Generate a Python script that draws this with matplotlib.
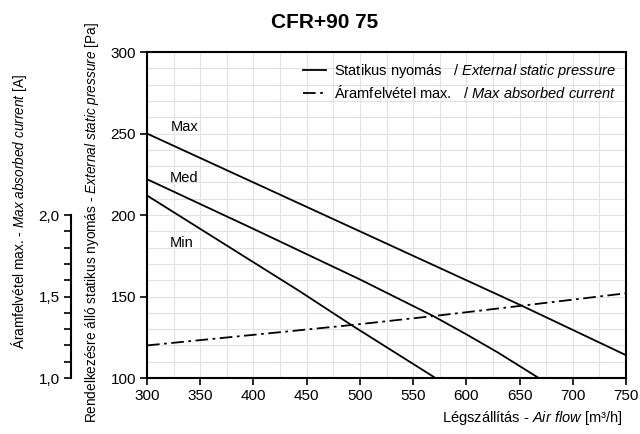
import matplotlib
matplotlib.use("Agg")
import matplotlib.pyplot as plt
from matplotlib.ticker import MultipleLocator, FuncFormatter
from matplotlib.lines import Line2D

# Adatok
FLOW_MAX = [300, 400, 500, 600, 650, 700, 750]
PA_MAX = [250, 220, 190, 160, 145, 129.5, 114]

FLOW_MED = [300, 400, 450, 500, 569, 600, 630, 668]
PA_MED = [222, 191.5, 176, 160.5, 138, 126.8, 115.5, 100]

FLOW_MIN = [300, 444, 492, 571]
PA_MIN = [212, 153, 132.5, 100]

FLOW_CUR = [300, 400, 492, 569, 650, 750]
AMP_CUR = [1.20, 1.265, 1.325, 1.38, 1.442, 1.52]

CURVE_LABELS = {"Max": (322, 254), "Med": (321, 222.5), "Min": (321, 183)}

FONT = "Liberation Sans"
plt.rcParams["font.family"] = [FONT, "DejaVu Sans"]
plt.rcParams["mathtext.fontset"] = "custom"
plt.rcParams["mathtext.it"] = FONT + ":italic"
plt.rcParams["mathtext.rm"] = FONT

fig = plt.figure(figsize=(6.4, 4.34), dpi=100)
ax = fig.add_axes([0.2297, 0.129, 0.7485, 0.751])

lw = 1.3
dashdot = (0, (7, 2.5, 1.5, 2.5))
ax.plot(FLOW_MAX, PA_MAX, color="black", lw=lw)
ax.plot(FLOW_MED, PA_MED, color="black", lw=lw)
ax.plot(FLOW_MIN, PA_MIN, color="black", lw=lw)

ax.set_xlim(300, 750)
ax.set_ylim(100, 300)
ax.xaxis.set_major_locator(MultipleLocator(50))
ax.yaxis.set_major_locator(MultipleLocator(50))
ax.xaxis.set_minor_locator(MultipleLocator(25))
ax.yaxis.set_minor_locator(MultipleLocator(10))
ax.grid(which="both", color="#e2e2e2", lw=0.8)
ax.set_axisbelow(True)
ax.tick_params(which="major", direction="out", length=5, width=1.2, labelsize=11, pad=3)
ax.tick_params(which="minor", length=0)
for s in ax.spines.values():
    s.set_linewidth(1.5)

for name, (x, y) in CURVE_LABELS.items():
    ax.text(x, y, name, fontsize=10.5, va="center", ha="left")

# Áramfelvétel tengely
ax2 = ax.twinx()
ax2.plot(FLOW_CUR, AMP_CUR, color="black", lw=lw, linestyle=dashdot)
ax2.set_ylim(1.0, 3.0)
ax2.yaxis.tick_left()
ax2.spines["left"].set_position(("axes", -0.159))
ax2.spines["left"].set_bounds(1.0, 2.0)
ax2.spines["left"].set_linewidth(1.5)
for side in ["right", "top", "bottom"]:
    ax2.spines[side].set_visible(False)
ax2.set_yticks([1.0, 1.5, 2.0])
ax2.set_yticks([1.1, 1.2, 1.3, 1.4, 1.6, 1.7, 1.8, 1.9], minor=True)
ax2.yaxis.set_major_formatter(FuncFormatter(lambda v, p: f"{v:.1f}".replace(".", ",")))
ax2.tick_params(which="both", direction="out", length=5, width=1.2, labelsize=11, pad=3)

handles = [Line2D([], [], color="black", lw=lw),
           Line2D([], [], color="black", lw=lw, linestyle=dashdot)]
labels = [r"Statikus nyomás   / $\it{External\ static\ pressure}$",
          r"Áramfelvétel max.   / $\it{Max\ absorbed\ current}$"]
ax.legend(handles, labels, loc="upper right", frameon=False, fontsize=10.5,
          handlelength=1.6, handletextpad=0.5, labelspacing=0.25,
          borderaxespad=0.3)

fig.text(0.508, 0.949, "CFR+90 75", fontsize=15, fontweight="bold", ha="center", va="center")
fig.text(0.144, 0.486, r"Rendelkezésre álló statikus nyomás - $\it{External\ static\ pressure}$ [Pa]",
         rotation=90, ha="center", va="center", fontsize=9.8)
fig.text(0.030, 0.512, r"Áramfelvétel max. - $\it{Max\ absorbed\ current}$ [A]",
         rotation=90, ha="center", va="center", fontsize=9.8)
fig.text(0.972, 0.036, r"Légszállítás - $\it{Air\ flow}$ [m³/h]", ha="right", va="center", fontsize=10.5)

fig.savefig("out.png", dpi=100)
